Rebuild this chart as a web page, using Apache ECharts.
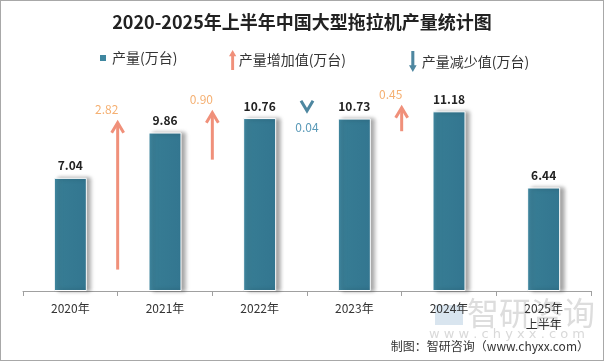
<!DOCTYPE html>
<html><head><meta charset="utf-8">
<script src="https://cdn.jsdelivr.net/npm/echarts@6/dist/echarts.min.js"></script>
<style>html,body{margin:0;padding:0;background:#fff}#c{width:604px;height:361px;box-sizing:border-box;border:1px solid #a8a8a8}</style>
</head><body><div id="c"></div>
<script>
const categories = ['2020年','2021年','2022年','2023年','2024年','2025年\n上半年'];
const production = [7.04, 9.86, 10.76, 10.73, 11.18, 6.44];
// [left category index (arrow sits between it and next), change, tip value]
const increases = [[0, 2.82, 10.47], [1, 0.90, 11.09], [3, 0.45, 11.40]];
const decreases = [[2, 0.04, 11.21]];
const labelFont = '"Noto Sans CJK SC", "Noto Sans", sans-serif';
const ARROW_SCALE = 3.24; // data units of arrow length per unit of change

const chart = echarts.init(document.getElementById('c'));

function arrowItem(up, color, labelColor) {
  return function (params, api) {
    const i = api.value(0), change = api.value(1), tip = api.value(2);
    const half = api.size([1, 0])[0] / 2;
    const x = api.coord([i, 0])[0] + half;
    const yTip = api.coord([i, tip])[1];
    const yEnd = api.coord([i, up ? tip - change * ARROW_SCALE : tip + change * ARROW_SCALE])[1];
    const children = [];
    const hw = 6, hh = up ? 10 : -10;
    if (Math.abs(yEnd - yTip) > 4) {
      children.push({type: 'line', shape: {x1: x, y1: yTip + (up ? 1 : -1), x2: x, y2: yEnd},
        style: {stroke: color, lineWidth: 3}});
    }
    children.push({type: 'polyline', shape: {points: [[x - hw, yTip + hh], [x, yTip], [x + hw, yTip + hh]]},
      style: {stroke: color, lineWidth: 3, fill: null}});
    const lbl = change.toFixed(2);
    if (up) {
      children.push({type: 'text', style: {text: lbl, x: x - 11, y: yTip - 13, align: 'center', verticalAlign: 'middle',
        fill: labelColor, font: '12px ' + labelFont}});
    } else {
      children.push({type: 'text', style: {text: lbl, x: x, y: yTip + 17, align: 'center', verticalAlign: 'middle',
        fill: labelColor, font: '12px ' + labelFont}});
    }
    return {type: 'group', children};
  };
}

chart.setOption({
  animation: false,
  title: {text: '2020-2025年上半年中国大型拖拉机产量统计图', left: 'center', top: 7,
    textStyle: {fontSize: 18, fontWeight: 'bold', color: '#222', fontFamily: '"Noto Sans CJK SC", sans-serif'}},
  legend: [
    {data: [{name: '产量(万台)', icon: 'rect', itemStyle: {color: '#3f87a0'}}], left: 92, top: 45,
      itemWidth: 8, itemHeight: 8, textStyle: {fontSize: 14, color: '#333', fontFamily: labelFont}},
    {data: [{name: '产量增加值(万台)', icon: 'path://M4,0 L8,7 L5.6,7 L5.6,22 L2.4,22 L2.4,7 L0,7 Z', itemStyle: {color: '#f0907a'}}],
      left: 223, top: 44, itemWidth: 8, itemHeight: 20, textStyle: {fontSize: 14, color: '#333', fontFamily: labelFont, padding: [0, 0, 0, -3]}},
    {data: [{name: '产量减少值(万台)', icon: 'path://M2.4,0 L5.6,0 L5.6,15 L8,15 L4,22 L0,15 L2.4,15 Z', itemStyle: {color: '#4e87a0'}}],
      left: 403, top: 45, itemWidth: 8, itemHeight: 21, textStyle: {fontSize: 14, color: '#333', fontFamily: labelFont}}
  ],
  grid: {left: 22, right: 12, top: 65, height: 225},
  xAxis: {type: 'category', data: categories,
    axisLine: {lineStyle: {color: '#a0a0a0'}},
    axisTick: {show: true, length: 5, lineStyle: {color: '#a0a0a0'}},
    axisLabel: {color: '#333', fontSize: 12, margin: 9, lineHeight: 16, fontFamily: labelFont}},
  yAxis: {type: 'value', min: 0, max: 14, show: false, splitLine: {show: false}},
  series: [
    {name: '产量(万台)', type: 'bar', data: production, barWidth: 33,
      itemStyle: {
        color: new echarts.graphic.LinearGradient(0, 0, 1, 0, [{offset: 0, color: '#4189a2'}, {offset: 0.3, color: '#367b93'}, {offset: 1, color: '#337690'}]),
        borderColor: '#fff', borderWidth: 1,
        shadowColor: 'rgba(0,0,0,0.35)', shadowBlur: 4, shadowOffsetX: 4, shadowOffsetY: 0},
      label: {show: true, position: 'top', distance: 6, color: '#222', fontWeight: 'bold', fontSize: 12, fontFamily: labelFont,
        formatter: p => p.value.toFixed(2)}},
    {name: '产量增加值(万台)', type: 'custom', data: increases, renderItem: arrowItem(true, '#f0907a', '#f5b072'),
      itemStyle: {color: '#f0907a'}, z: 3},
    {name: '产量减少值(万台)', type: 'custom', data: decreases, renderItem: arrowItem(false, '#4e87a0', '#5a9ab8'),
      itemStyle: {color: '#4e87a0'}, z: 3}
  ],
  graphic: [
    {type: 'text', left: 466, top: 296, style: {text: '智研咨询', font: '32px "Noto Sans CJK SC", sans-serif', fill: 'rgba(180,180,180,0.45)'}},
    {type: 'rect', left: 434, top: 304, shape: {width: 28, height: 20}, style: {fill: 'rgba(160,190,215,0.4)'}},
    {type: 'text', left: 428, top: 327, style: {text: 'w w w . c h y x x . c o m', font: '13px "DejaVu Sans", sans-serif', fill: 'rgba(180,180,180,0.5)'}},
    {type: 'text', right: 14, top: 339, style: {text: '制图：智研咨询（www.chyxx.com）', font: '12px "Noto Sans CJK SC", sans-serif', fill: '#333'}}
  ]
});
</script></body></html>
